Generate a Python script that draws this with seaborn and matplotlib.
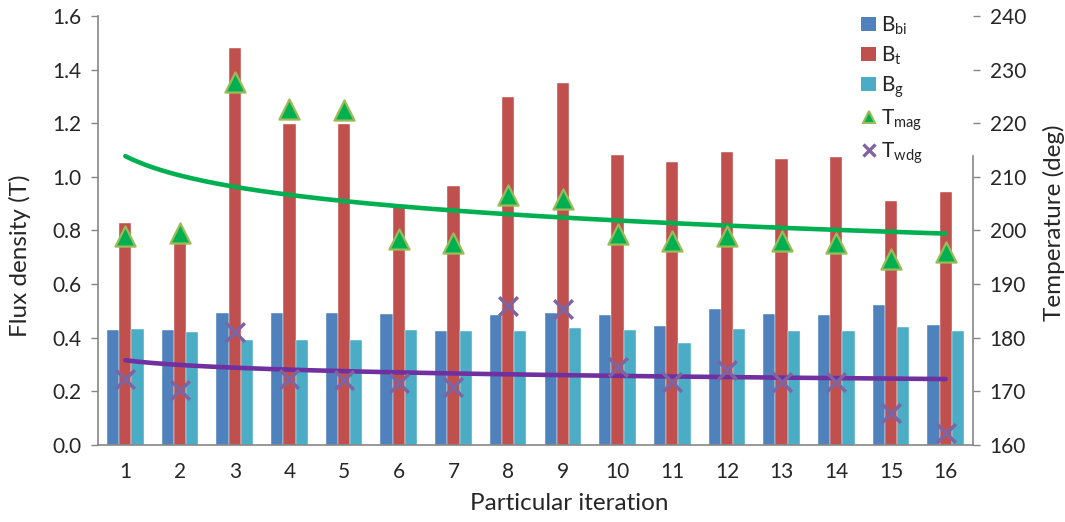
import numpy as np
import pandas as pd
import matplotlib
matplotlib.use("Agg")
import matplotlib.pyplot as plt
import seaborn as sns
from matplotlib.patches import Patch
from matplotlib.lines import Line2D

# ---------------- data ----------------
iterations = list(range(1, 17))
B_bi = [0.429, 0.429, 0.493, 0.493, 0.492, 0.489, 0.425, 0.486, 0.493, 0.486, 0.444, 0.507, 0.487, 0.484, 0.521, 0.446]
B_t = [0.827, 0.752, 1.480, 1.199, 1.197, 0.889, 0.965, 1.298, 1.349, 1.082, 1.056, 1.093, 1.066, 1.074, 0.910, 0.942]
B_g = [0.434, 0.421, 0.390, 0.390, 0.390, 0.429, 0.426, 0.424, 0.435, 0.429, 0.380, 0.433, 0.426, 0.426, 0.441, 0.424]
T_mag = [199.0, 199.5, 227.6, 222.6, 222.5, 198.4, 197.6, 206.6, 205.9, 199.3, 198.0, 198.9, 198.0, 197.6, 194.6, 196.0]
T_wdg = [172.4, 170.3, 181.1, 172.4, 172.1, 171.6, 170.9, 185.9, 185.3, 174.6, 171.8, 174.0, 171.8, 171.7, 165.9, 162.3]
series_names = ["B_bi", "B_t", "B_g"]
left_ticks = [0.0, 0.2, 0.4, 0.6, 0.8, 1.0, 1.2, 1.4, 1.6]
right_ticks = [160, 170, 180, 190, 200, 210, 220, 230, 240]

# ---------------- style ----------------
sns.set_theme(style="white")
plt.rcParams["font.family"] = ["Lato", "DejaVu Sans"]
plt.rcParams["mathtext.fontset"] = "custom"
plt.rcParams["mathtext.rm"] = "Lato"

c_bi, c_t, c_g = "#4F81BD", "#C0504D", "#4BACC6"
c_mag, c_mag_edge = "#00B050", "#9BBB59"
c_wdg, c_wdg_line = "#8064A2", "#7030A0"
axis_gray = "#868686"

df = pd.DataFrame({
    "iteration": np.repeat(iterations, 3),
    "series": series_names * len(iterations),
    "value": np.ravel(np.column_stack([B_bi, B_t, B_g])),
})

fig = plt.figure(figsize=(10.65, 5.22), dpi=100)
ax = fig.add_axes([98 / 1065, 1 - 445 / 522, (973 - 98) / 1065, (445 - 16) / 522])

sns.barplot(data=df, x="iteration", y="value", hue="series", hue_order=series_names,
            palette=[c_bi, c_t, c_g], saturation=1, width=0.67, gap=0, dodge=True, ax=ax,
            edgecolor="#FFFFFF", linewidth=0.3, legend=False, errorbar=None)

ax.set_xlim(-0.5, len(iterations) - 0.5)
ax.set_ylim(0, 1.6)
ax.set_yticks(left_ticks)
ax.set_yticklabels([f"{v:.1f}" for v in left_ticks])
ax.set_xticks(range(len(iterations)))
ax.set_xticklabels([str(i) for i in iterations])
ax.set_xticks(np.arange(-0.5, len(iterations)), minor=True)
ax.tick_params(axis="x", which="major", length=0, pad=12, labelsize=15)
ax.tick_params(axis="x", which="minor", length=6, width=1, color=axis_gray, direction="out")
ax.tick_params(axis="y", length=5, width=1, color=axis_gray, direction="out", labelsize=15, pad=7)
ax.set_xlabel("Particular iteration", fontsize=17.5, labelpad=8)
ax.set_ylabel("Flux density (T)", fontsize=17.5, labelpad=15)
ax.xaxis.label.set_x(0.538)
ax.yaxis.label.set_y(0.442)
for s in ["top", "right"]:
    ax.spines[s].set_visible(False)
for s in ["left", "bottom"]:
    ax.spines[s].set_color(axis_gray)
    ax.spines[s].set_linewidth(1.2)

# ---------------- temperature axis ----------------
ax2 = ax.twinx()
xpos = np.arange(len(iterations))
ln_x = np.log(np.array(iterations, dtype=float))
xd = np.linspace(1, len(iterations), 200)
for T, col in [(T_mag, c_mag), (T_wdg, c_wdg_line)]:
    b, a = np.polyfit(ln_x, np.array(T), 1)
    ax2.plot(xd - 1, a + b * np.log(xd), color=col, lw=3.3, solid_capstyle="round", zorder=2)

sns.scatterplot(x=xpos, y=T_mag, marker="^", s=210, color=c_mag, edgecolor=c_mag_edge,
                linewidth=1.6, ax=ax2, zorder=3, legend=False)
sns.scatterplot(x=xpos, y=T_wdg, marker="x", s=180, color=c_wdg, linewidth=2.5,
                ax=ax2, zorder=3, legend=False)

ax2.set_ylim(160, 240)
ax2.set_yticks(right_ticks)
ax2.tick_params(axis="y", length=5, width=1, color=axis_gray, direction="out", labelsize=15, pad=7)
ax2.set_ylabel("Temperature (deg)", fontsize=17.5, labelpad=12)
ax2.yaxis.label.set_y(0.519)
for s in ["top", "left", "bottom"]:
    ax2.spines[s].set_visible(False)
ax2.spines["right"].set_color(axis_gray)
ax2.spines["right"].set_linewidth(1.2)
ax2.spines["right"].set_bounds(160, 213.8)
ax2.set_xlim(-0.5, len(iterations) - 0.5)

handles = [
    Patch(facecolor=c_bi, edgecolor="none"),
    Patch(facecolor=c_t, edgecolor="none"),
    Patch(facecolor=c_g, edgecolor="none"),
    Line2D([], [], ls="none", marker="^", ms=9, mfc=c_mag, mec=c_mag_edge, mew=1.5),
    Line2D([], [], ls="none", marker="x", ms=9, mec=c_wdg, mew=2.4),
]
labels = [r"B$_\mathregular{bi}$", r"B$_\mathregular{t}$", r"B$_\mathregular{g}$",
          r"T$_\mathregular{mag}$", r"T$_\mathregular{wdg}$"]
ax2.legend(handles, labels, loc="upper left", bbox_to_anchor=(853 / 1065, 1 - 6 / 522),
           bbox_transform=fig.transFigure, frameon=False, fontsize=15,
           handlelength=0.7, handleheight=0.7, handletextpad=0.25, labelspacing=0.35,
           borderaxespad=0)

fig.savefig("out.png", dpi=100)
